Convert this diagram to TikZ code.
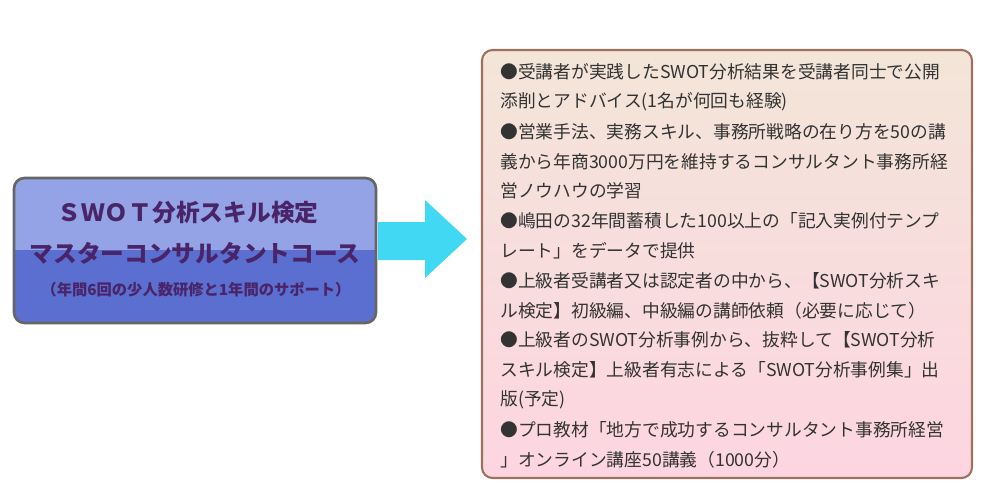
\documentclass[tikz,border=0pt]{standalone}
\usepackage{fontspec}
\setmainfont{Noto Sans CJK JP}
\definecolor{boxtop}{HTML}{93A3E6}
\definecolor{boxbot}{HTML}{5B6FD0}
\definecolor{titlecol}{HTML}{4A2468}
\definecolor{arrowcol}{HTML}{40D8F2}
\definecolor{notetop}{HTML}{F3E5D8}
\definecolor{notebot}{HTML}{FDD5E1}
\definecolor{noteline}{HTML}{A0705E}
\tikzset{
  title/.style={text=titlecol,font=\bfseries\fontsize{13.5}{15}\selectfont,inner sep=0pt},
  item/.style={anchor=west,text=black!80,font=\fontsize{10.1}{12}\selectfont,inner sep=0pt}
}
\begin{document}
\begin{tikzpicture}[x=0.02cm,y=-0.02cm]
\useasboundingbox (0,0) rectangle (1000,500);
% left box
\begin{scope}
\clip[rounded corners=6] (14,178) rectangle (376,323);
\fill[boxtop] (14,178) rectangle (376,250);
\fill[boxbot] (14,250) rectangle (376,323);
\end{scope}
\draw[black!60,line width=1.5pt,rounded corners=6] (14,178) rectangle (376,323);
\node[title] (t1) at (188,213) {ＳＷＯＴ分析スキル検定};
\node[title] (t2) at (195,253) {マスターコンサルタントコース};
\node[text=titlecol,font=\bfseries\fontsize{8.7}{10}\selectfont,inner sep=0pt] (t3) at (196,290) {（年間6回の少人数研修と1年間のサポート）};
% arrow
\fill[arrowcol] (378,222) -- (425,222) -- (425,200) -- (467,239) -- (425,278) -- (425,260) -- (378,260) -- cycle;
% right box
\shade[top color=notetop,bottom color=notebot,rounded corners=6] (482,50) rectangle (972,478);
\draw[noteline,line width=1.2pt,rounded corners=6] (482,50) rectangle (972,478);
\foreach \txt [count=\i] in {%
  ●受講者が実践したSWOT分析結果を受講者同士で公開,
  添削とアドバイス(1名が何回も経験),
  ●営業手法、実務スキル、事務所戦略の在り方を50の講,
  義から年商3000万円を維持するコンサルタント事務所経,
  営ノウハウの学習,
  ●嶋田の32年間蓄積した100以上の「記入実例付テンプ,
  レート」をデータで提供,
  ●上級者受講者又は認定者の中から、【SWOT分析スキ,
  ル検定】初級編、中級編の講師依頼（必要に応じて）,
  ●上級者のSWOT分析事例から、抜粋して【SWOT分析,
  スキル検定】上級者有志による「SWOT分析事例集」出,
  版(予定),
  ●プロ教材「地方で成功するコンサルタント事務所経営,
  」オンライン講座50講義（1000分）}
  \node[item] (l\i) at (500,{72+29.8*(\i-1)}) {\txt};
\end{tikzpicture}
\end{document}
